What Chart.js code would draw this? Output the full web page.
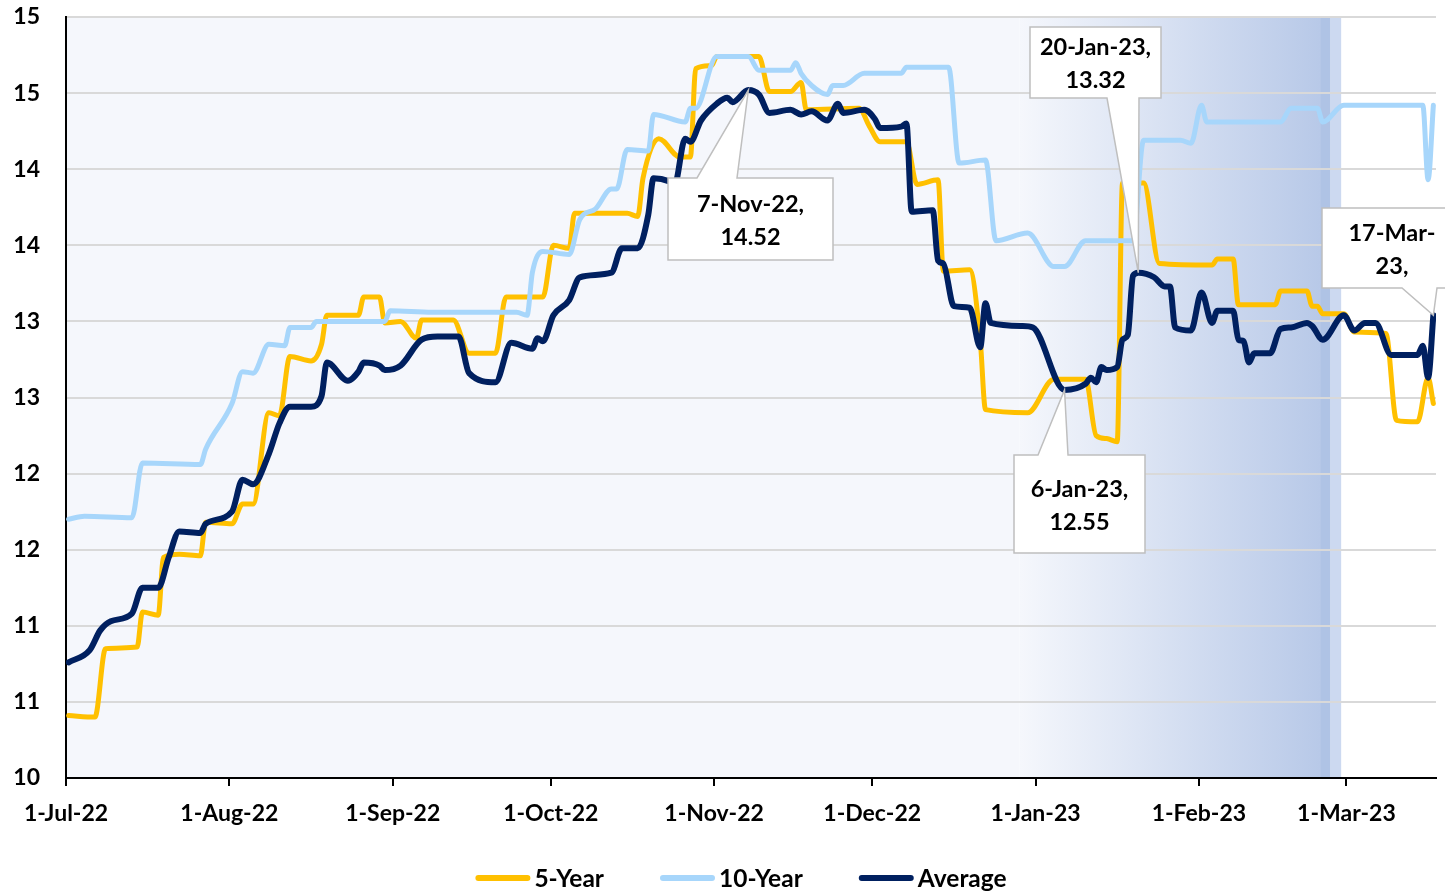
<!DOCTYPE html>
<html>
<head>
<meta charset="utf-8">
<title>5-Year / 10-Year / Average</title>
<script src="https://cdn.jsdelivr.net/npm/chart.js@4.4.1/dist/chart.umd.min.js"></script>
<style>
  html, body { margin: 0; padding: 0; background: #ffffff; }
  #wrap { width: 1445px; height: 893px; }
</style>
</head>
<body>
<div id="wrap"><canvas id="yieldChart" width="1445" height="893"></canvas></div>
<script>
// x values are days counted from 1-Jul-22 (each point sits in the middle of its day)
const monthTickDays = [0, 31, 62, 92, 123, 153, 184, 215, 243];
const monthTickLabels = ['1-Jul-22', '1-Aug-22', '1-Sep-22', '1-Oct-22', '1-Nov-22',
                         '1-Dec-22', '1-Jan-23', '1-Feb-23', '1-Mar-23'];
const lastDay = 260;

const seriesLabels = ['5-Year', '10-Year', 'Average'];
const seriesColors = ['#FFC000', '#A7D6FB', '#002060'];

const fiveYearDays = [0, 5, 7, 13, 14, 17, 18, 21, 25, 26, 31, 33, 35, 38, 40, 42, 46, 48, 49, 55,
  56, 59, 60, 63, 66, 67, 73, 76, 81, 83, 90, 92, 95, 96, 106, 108, 109, 112, 116, 118,
  119, 122, 123, 131, 133, 137, 139, 140, 150, 152, 154, 159, 161, 165, 166, 171, 173, 174, 182, 187,
  193, 195, 197, 199, 200, 204, 207, 217, 218, 221, 222, 229, 230, 235, 236, 237, 238, 242, 244, 250,
  252, 256, 258, 259];
const fiveYearValues = [10.41, 10.40, 10.85, 10.86, 11.09, 11.07, 11.45, 11.47, 11.46, 11.68, 11.67, 11.80, 11.80, 12.40, 12.38, 12.77, 12.74, 12.85, 13.04, 13.04,
  13.16, 13.16, 12.99, 13.00, 12.89, 13.01, 13.01, 12.79, 12.79, 13.16, 13.16, 13.50, 13.48, 13.71, 13.71, 13.69, 13.94, 14.20, 14.08, 14.08,
  14.66, 14.68, 14.74, 14.74, 14.51, 14.51, 14.57, 14.39, 14.40, 14.28, 14.18, 14.18, 13.90, 13.93, 13.33, 13.34, 12.88, 12.42, 12.40, 12.62,
  12.62, 12.25, 12.23, 12.21, 13.91, 13.91, 13.38, 13.37, 13.41, 13.41, 13.11, 13.11, 13.20, 13.20, 13.10, 13.10, 13.05, 13.05, 12.93, 12.92,
  12.35, 12.34, 12.63, 12.46];

const tenYearDays = [0, 3, 12, 14, 25, 26, 31, 33, 35, 38, 41, 42, 46, 47, 60, 61, 69, 85, 87, 88,
  90, 95, 97, 100, 103, 104, 106, 110, 111, 117, 118, 119, 123, 129, 131, 137, 138, 139, 141, 144,
  145, 147, 151, 158, 159, 167, 169, 174, 176, 182, 187, 189, 193, 202, 204, 211, 213, 215, 216, 230,
  232, 237, 238, 242, 257, 258, 259];
const tenYearValues = [11.70, 11.72, 11.71, 12.07, 12.06, 12.16, 12.46, 12.67, 12.66, 12.85, 12.84, 12.96, 12.96, 13.00, 13.00, 13.07, 13.06, 13.06, 13.04, 13.32,
  13.46, 13.44, 13.67, 13.74, 13.87, 13.87, 14.13, 14.12, 14.36, 14.31, 14.40, 14.40, 14.74, 14.74, 14.65, 14.65, 14.70, 14.63, 14.55, 14.49,
  14.55, 14.55, 14.63, 14.63, 14.67, 14.67, 14.04, 14.06, 13.53, 13.58, 13.36, 13.36, 13.53, 13.53, 14.19, 14.19, 14.17, 14.42, 14.31, 14.31,
  14.40, 14.40, 14.31, 14.42, 14.42, 13.93, 14.42];

const averageDays = [0, 4, 6, 8, 12, 14, 17, 19, 21, 25, 26, 31, 33, 35, 38, 40, 42, 46, 48, 49,
  53, 55, 56, 59, 60, 63, 67, 70, 74, 76, 81, 84, 88, 89, 90, 92, 95, 97, 103, 105,
  108, 110, 111, 114, 115, 117, 118, 120, 123, 125, 126, 129, 131, 133, 137, 139, 141, 144, 146, 147,
  151, 153, 154, 158, 159, 160, 164, 165, 166, 168, 171, 173, 174, 175, 181, 183, 189, 193, 194, 195,
  196, 197, 199, 200, 201, 202, 203, 206, 208, 209, 210, 213, 215, 217, 218, 221, 222, 223, 224, 225,
  228, 230, 232, 235, 236, 238, 242, 244, 246, 248, 251, 256, 257, 258, 259];
const averageValues = [10.76, 10.84, 10.97, 11.03, 11.08, 11.25, 11.25, 11.45, 11.62, 11.61, 11.67, 11.75, 11.96, 11.93, 12.13, 12.33, 12.44, 12.44, 12.51, 12.73,
  12.61, 12.67, 12.73, 12.71, 12.68, 12.71, 12.88, 12.90, 12.90, 12.66, 12.60, 12.86, 12.82, 12.89, 12.87, 13.04, 13.14, 13.29, 13.32, 13.48,
  13.48, 13.70, 13.94, 13.92, 13.90, 14.20, 14.18, 14.32, 14.43, 14.47, 14.44, 14.52, 14.49, 14.37, 14.39, 14.36, 14.38, 14.32, 14.43, 14.37,
  14.39, 14.33, 14.27, 14.28, 14.30, 13.72, 13.73, 13.40, 13.38, 13.10, 13.09, 12.83, 13.12, 12.99, 12.97, 12.96, 12.55, 12.59, 12.63, 12.60,
  12.70, 12.68, 12.70, 12.88, 12.91, 13.30, 13.32, 13.29, 13.23, 13.23, 12.96, 12.94, 13.19, 12.99, 13.07, 13.07, 12.88, 12.87, 12.73, 12.79,
  12.79, 12.95, 12.96, 12.99, 12.97, 12.88, 13.04, 12.94, 12.99, 12.99, 12.78, 12.78, 12.84, 12.63, 13.04];

// data callouts on the Average line
const calloutDays = [129, 189, 203, 259];
const calloutText = [['7-Nov-22,', '14.52'], ['6-Jan-23,', '12.55'], ['20-Jan-23,', '13.32'], ['17-Mar-', '23,']];

// shaded period behind the lines
const shadeFadeDay = 181;
const shadeDeepDay = 238;
const shadeStripDay = 240;
const shadeEndDay = 242;

const FONT = 'Lato, "Open Sans", "DejaVu Sans", sans-serif';

// box geometry for each callout (pixels): left, top, width, height, side of the pointer, pointer base
const calloutBoxes = [
  { left: 668, top: 178, w: 165, h: 82, side: 'top', baseL: 697, baseR: 737 },
  { left: 1014, top: 455, w: 131, h: 98, side: 'top', baseL: 1038, baseR: 1068 },
  { left: 1030, top: 27, w: 131, h: 71, side: 'bottom', baseL: 1107, baseR: 1139 },
  { left: 1322, top: 208, w: 140, h: 80, side: 'bottom', baseL: 1402, baseR: 1437 }
];

function toPoints(days, values) {
  return days.map((d, i) => ({ x: d + 0.5, y: values[i] }));
}

/**
 * Background band: pale fill that darkens towards the end of February
 */
const shadePlugin = {
  id: 'shadeBand',
  beforeDraw(chart) {
    const { ctx, chartArea: a, scales: { x } } = chart;
    const x0 = x.getPixelForValue(0);
    const xf = x.getPixelForValue(shadeFadeDay);
    const xd = x.getPixelForValue(shadeDeepDay);
    const xs = x.getPixelForValue(shadeStripDay);
    const xe = x.getPixelForValue(shadeEndDay);
    ctx.save();
    ctx.fillStyle = '#F5F7FC';
    ctx.fillRect(x0, a.top, xf - x0, a.height);
    const g = ctx.createLinearGradient(xf, 0, xd, 0);
    g.addColorStop(0, '#F5F7FC');
    g.addColorStop(1, '#B8C9E8');
    ctx.fillStyle = g;
    ctx.fillRect(xf, a.top, xd - xf, a.height);
    ctx.fillStyle = '#AFC3E5';
    ctx.fillRect(xd, a.top, xs - xd, a.height);
    ctx.fillStyle = '#CCD9F0';
    ctx.fillRect(xs, a.top, xe - xs, a.height);
    ctx.restore();
  }
};

/**
 * White callout boxes with a wedge pointing at the Average line
 */
const calloutPlugin = {
  id: 'callouts',
  afterDatasetsDraw(chart) {
    const { ctx, scales: { x, y } } = chart;
    ctx.save();
    calloutDays.forEach((day, i) => {
      const value = averageValues[averageDays.indexOf(day)];
      const tipX = x.getPixelForValue(day + 0.5);
      const tipY = y.getPixelForValue(value);
      const b = calloutBoxes[i];
      const r = b.left + b.w, btm = b.top + b.h;
      ctx.beginPath();
      if (b.side === 'top') {
        ctx.moveTo(b.left, b.top);
        ctx.lineTo(b.baseL, b.top);
        ctx.lineTo(tipX, tipY);
        ctx.lineTo(b.baseR, b.top);
        ctx.lineTo(r, b.top);
        ctx.lineTo(r, btm);
        ctx.lineTo(b.left, btm);
      } else {
        ctx.moveTo(b.left, b.top);
        ctx.lineTo(r, b.top);
        ctx.lineTo(r, btm);
        ctx.lineTo(b.baseR, btm);
        ctx.lineTo(tipX, tipY);
        ctx.lineTo(b.baseL, btm);
        ctx.lineTo(b.left, btm);
      }
      ctx.closePath();
      ctx.fillStyle = '#FFFFFF';
      ctx.fill();
      ctx.strokeStyle = '#BFBFBF';
      ctx.lineWidth = 1.5;
      ctx.stroke();

      ctx.fillStyle = '#000000';
      ctx.font = `bold 23.5px ${FONT}`;
      ctx.textAlign = 'center';
      ctx.textBaseline = 'middle';
      const cx = b.left + b.w / 2;
      const cy = b.top + b.h / 2;
      ctx.fillText(calloutText[i][0], cx, cy - 15);
      ctx.fillText(calloutText[i][1], cx, cy + 18);
    });
    ctx.restore();
  }
};

/**
 * Legend along the bottom, drawn from the dataset labels and colours
 */
const legendPlugin = {
  id: 'bottomLegend',
  afterDraw(chart) {
    const ctx = chart.ctx;
    const lineLen = 55, textGap = 4, itemGap = 56, centerX = 741, yMid = 878;
    ctx.save();
    ctx.font = `bold 24.5px ${FONT}`;
    const sets = chart.data.datasets;
    const widths = sets.map(ds => lineLen + textGap + ctx.measureText(ds.label).width);
    const total = widths.reduce((s, w) => s + w, 0) + itemGap * (sets.length - 1);
    let cursor = centerX - total / 2;
    sets.forEach((ds, i) => {
      ctx.strokeStyle = ds.borderColor;
      ctx.lineWidth = 6;
      ctx.lineCap = 'round';
      ctx.beginPath();
      ctx.moveTo(cursor + 3, yMid);
      ctx.lineTo(cursor + lineLen - 3, yMid);
      ctx.stroke();
      ctx.fillStyle = '#000000';
      ctx.textAlign = 'left';
      ctx.textBaseline = 'middle';
      ctx.fillText(ds.label, cursor + lineLen + textGap, yMid + 1);
      cursor += widths[i] + itemGap;
    });
    ctx.restore();
  }
};

function makeDataset(i, days, values, order, width) {
  return {
    label: seriesLabels[i],
    data: toPoints(days, values),
    borderColor: seriesColors[i],
    backgroundColor: seriesColors[i],
    borderWidth: width,
    borderCapStyle: 'round',
    borderJoinStyle: 'round',
    pointRadius: 0,
    cubicInterpolationMode: 'monotone',
    fill: false,
    order: order
  };
}

function initChart() {
  Chart.defaults.font.family = FONT;
  Chart.defaults.color = '#000000';

  const ctx = document.getElementById('yieldChart').getContext('2d');
  new Chart(ctx, {
    type: 'line',
    data: {
      datasets: [
        makeDataset(0, fiveYearDays, fiveYearValues, 2, 5),
        makeDataset(1, tenYearDays, tenYearValues, 1, 5),
        makeDataset(2, averageDays, averageValues, 0, 6)
      ]
    },
    options: {
      responsive: false,
      animation: false,
      layout: { padding: { top: 17, right: 9, bottom: 45, left: 0 } },
      plugins: {
        legend: { display: false },
        tooltip: { enabled: false }
      },
      scales: {
        x: {
          type: 'linear',
          min: 0,
          max: lastDay,
          afterBuildTicks: scale => {
            scale.ticks = monthTickDays.map(v => ({ value: v }));
          },
          afterFit: scale => { scale.height = 70; },
          ticks: {
            autoSkip: false,
            maxRotation: 0,
            padding: 14,
            color: '#000000',
            font: { size: 23, weight: 'bold' },
            callback: (value, index) => monthTickLabels[index]
          },
          grid: {
            drawOnChartArea: false,
            drawTicks: true,
            tickLength: 8,
            color: '#000000',
            lineWidth: 2
          },
          border: { color: '#000000', width: 2 }
        },
        y: {
          min: 10,
          max: 15,
          afterFit: scale => {
            scale.width = 66;
            scale.paddingTop = 0;
            scale.paddingBottom = 0;
          },
          ticks: {
            stepSize: 0.5,
            padding: 26,
            color: '#000000',
            font: { size: 23, weight: 'bold' },
            callback: value => String(Math.round(value))
          },
          grid: { color: '#D9D9D9', lineWidth: 2, drawTicks: false },
          border: { color: '#000000', width: 2 }
        }
      }
    },
    plugins: [shadePlugin, calloutPlugin, legendPlugin]
  });
}

document.addEventListener('DOMContentLoaded', initChart);
</script>
</body>
</html>
